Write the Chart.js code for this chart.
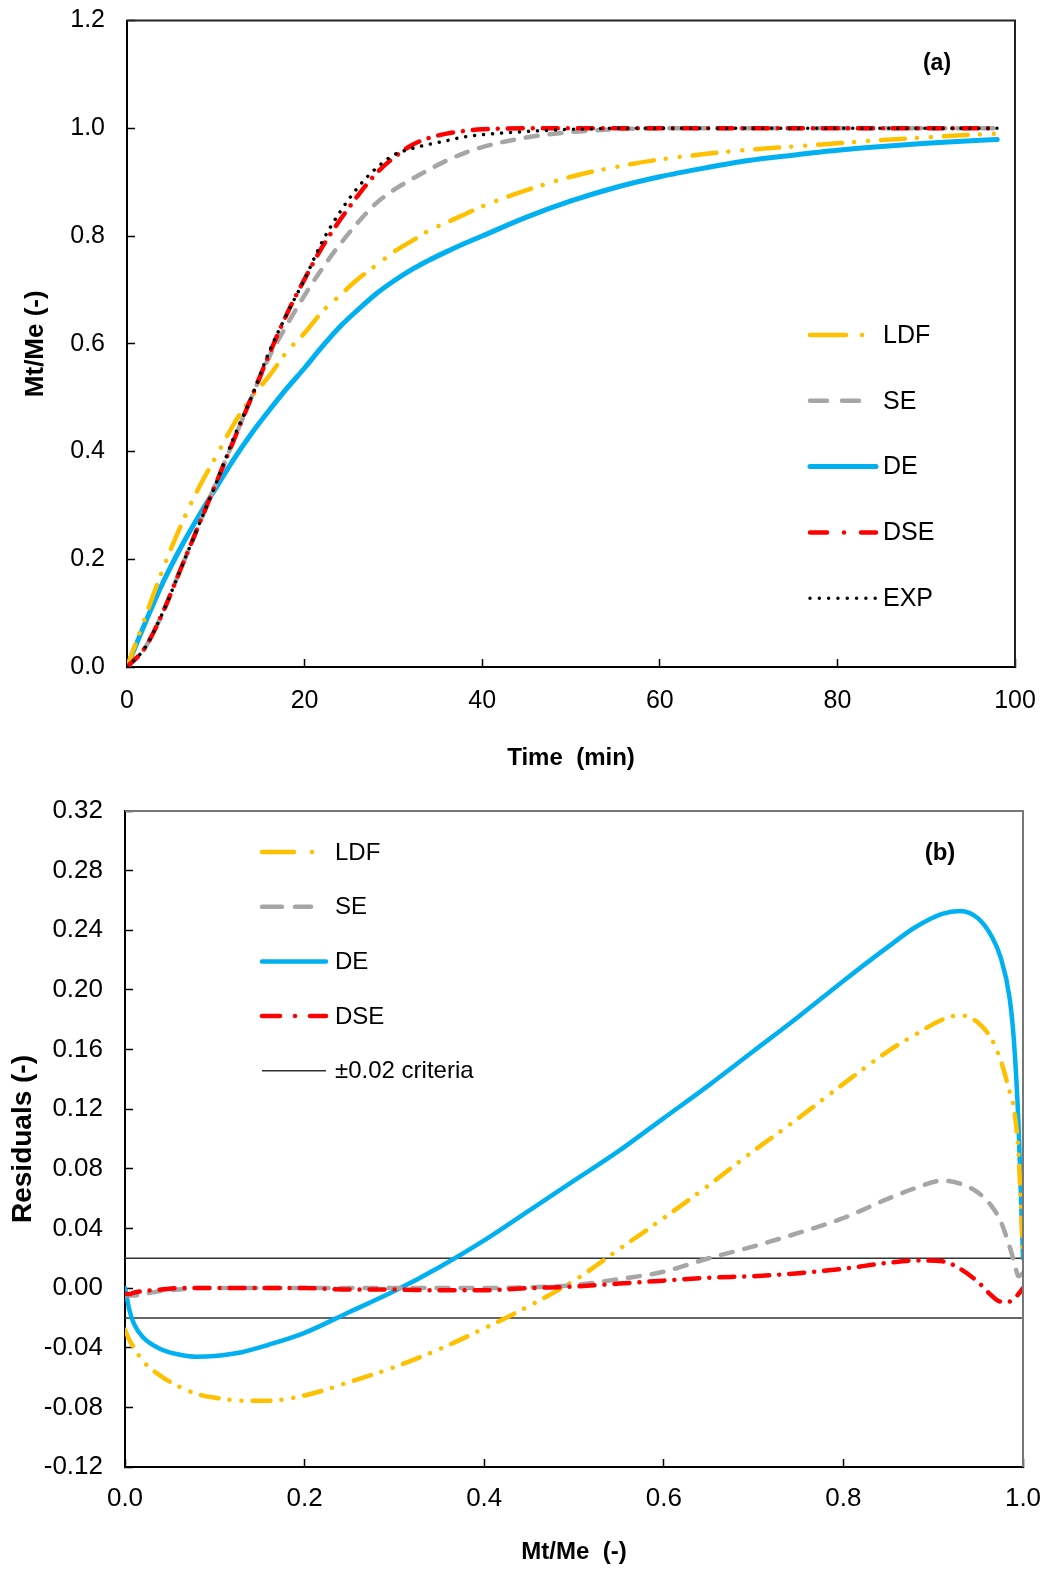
<!DOCTYPE html>
<html>
<head>
<meta charset="utf-8">
<script src="https://cdn.jsdelivr.net/npm/chart.js@4.4.1/dist/chart.umd.min.js"></script>
<style>
  body { margin: 0; background: #fff; }
  .panel { position: absolute; left: 0; width: 1049px; }
  #panelA { top: 0; height: 790px; }
  #panelB { top: 790px; height: 782px; }
</style>
</head>
<body>
<div class="panel" id="panelA"><canvas id="chartA" width="1049" height="790"></canvas></div>
<div class="panel" id="panelB"><canvas id="chartB" width="1049" height="782"></canvas></div>
<script>
// (a) uptake curves, time in min
const timeMin = [0, 2, 4, 6, 8, 10, 12, 14, 16, 18, 20, 22, 24, 26, 28, 30, 32, 34, 36, 38, 40, 45, 50, 55, 60, 65, 70, 75, 80, 85, 90, 94, 98];
const expA = [0, 0.035, 0.10, 0.18, 0.26, 0.34, 0.425, 0.50, 0.585, 0.655, 0.72, 0.79, 0.845, 0.89, 0.925, 0.95, 0.962, 0.97, 0.977, 0.984, 0.988, 0.994, 0.998, 1.0, 1.0, 1.0, 1.0, 1.0, 1.0, 1.0, 1.0, 1.0, 1.0];
const dseA = [0, 0.035, 0.10, 0.18, 0.26, 0.34, 0.42, 0.50, 0.58, 0.655, 0.72, 0.78, 0.83, 0.875, 0.915, 0.945, 0.968, 0.982, 0.99, 0.995, 0.998, 1.0, 1.0, 1.0, 1.0, 1.0, 1.0, 1.0, 1.0, 1.0, 1.0, 1.0, 1.0];
const seA = [0, 0.035, 0.10, 0.18, 0.26, 0.34, 0.42, 0.50, 0.575, 0.635, 0.69, 0.74, 0.785, 0.825, 0.86, 0.885, 0.905, 0.923, 0.94, 0.954, 0.965, 0.983, 0.993, 0.998, 1.0, 1.0, 1.0, 1.0, 1.0, 1.0, 1.0, 1.0, 1.0];
const ldfA = [0, 0.09, 0.18, 0.26, 0.33, 0.39, 0.45, 0.50, 0.54, 0.585, 0.62, 0.66, 0.69, 0.72, 0.745, 0.77, 0.79, 0.81, 0.825, 0.84, 0.855, 0.885, 0.91, 0.928, 0.942, 0.952, 0.96, 0.966, 0.972, 0.978, 0.983, 0.987, 0.99];
const deA = [0, 0.08, 0.155, 0.22, 0.278, 0.332, 0.385, 0.433, 0.476, 0.517, 0.555, 0.595, 0.632, 0.663, 0.692, 0.716, 0.737, 0.755, 0.771, 0.786, 0.80, 0.835, 0.865, 0.89, 0.91, 0.926, 0.94, 0.95, 0.959, 0.966, 0.972, 0.976, 0.979];

// (b) residuals against Mt/Me
const mtMe = [0, 0.005, 0.01, 0.02, 0.04, 0.06, 0.08, 0.1, 0.13, 0.16, 0.2, 0.25, 0.3, 0.35, 0.4, 0.45, 0.5, 0.55, 0.6, 0.65, 0.7, 0.75, 0.8, 0.85, 0.88, 0.91, 0.93, 0.95, 0.965, 0.975, 0.985, 0.99, 0.995, 1.0];
const ldfB = [-0.028, -0.035, -0.04, -0.049, -0.059, -0.066, -0.071, -0.0735, -0.0755, -0.0755, -0.072, -0.063, -0.053, -0.041, -0.027, -0.012, 0.005, 0.026, 0.047, 0.069, 0.092, 0.114, 0.137, 0.159, 0.170, 0.180, 0.183, 0.178, 0.167, 0.153, 0.132, 0.12, 0.09, 0.02];
const seB = [-0.005, -0.005, -0.005, -0.004, -0.002, -0.001, 0, 0, 0, 0, 0, 0, 0, 0, 0, 0.0005, 0.002, 0.006, 0.011, 0.020, 0.028, 0.037, 0.047, 0.060, 0.067, 0.072, 0.070, 0.064, 0.055, 0.045, 0.028, 0.018, 0.008, 0.01];
const deB = [0, -0.015, -0.024, -0.033, -0.041, -0.0445, -0.046, -0.0455, -0.043, -0.038, -0.030, -0.016, -0.002, 0.014, 0.032, 0.052, 0.072, 0.092, 0.114, 0.136, 0.159, 0.182, 0.206, 0.229, 0.242, 0.251, 0.253, 0.248, 0.236, 0.222, 0.195, 0.165, 0.11, 0.02];
const dseB = [-0.004, -0.004, -0.003, -0.002, -0.001, 0, 0, 0, 0, 0, 0, -0.001, -0.001, -0.0015, -0.0015, 0, 0.001, 0.003, 0.005, 0.007, 0.008, 0.010, 0.013, 0.017, 0.0185, 0.018, 0.013, 0.004, -0.005, -0.009, -0.009, -0.007, -0.004, 0.0];
const critX = [0, 1];
const critUp = [0.02, 0.02];
const critLow = [-0.02, -0.02];

const FONT = "'Liberation Sans', Arial, Helvetica, sans-serif";
const YELLOW = '#FFC000', GREY = '#A6A6A6', BLUE = '#00B0F0', RED = '#FF0000';

function pts(xs, ys) {
    return xs.map(function (x, i) { return { x: x, y: ys[i] }; });
}

function line(label, xs, ys, color, width, dash) {
    return {
        label: label,
        data: pts(xs, ys),
        borderColor: color,
        backgroundColor: color,
        borderWidth: width,
        borderDash: dash,
        borderCapStyle: 'round',
        pointRadius: 0,
        fill: false,
        cubicInterpolationMode: 'monotone'
    };
}

// box frame (top + right) and panel letter
const framePlugin = {
    id: 'frame',
    afterDraw(chart, args, opts) {
        const { ctx, chartArea: a } = chart;
        ctx.save();
        ctx.strokeStyle = opts.color;
        ctx.lineWidth = 2;
        ctx.beginPath();
        ctx.moveTo(a.left, a.top);
        ctx.lineTo(a.right, a.top);
        ctx.lineTo(a.right, a.bottom);
        ctx.stroke();
        ctx.fillStyle = '#000';
        ctx.font = 'bold ' + opts.letterSize + 'px ' + FONT;
        ctx.textAlign = 'center';
        ctx.textBaseline = 'middle';
        ctx.fillText(opts.letter, opts.letterX, opts.letterY);
        ctx.restore();
    }
};

// legend drawn inside the plot area
const keyPlugin = {
    id: 'key',
    afterDatasetsDraw(chart, args, opts) {
        const ctx = chart.ctx;
        ctx.save();
        opts.items.forEach(function (it, i) {
            const ds = chart.data.datasets[it.ds];
            const y = opts.y0 + i * opts.step;
            ctx.strokeStyle = ds.borderColor;
            ctx.lineWidth = it.width || ds.borderWidth;
            ctx.lineCap = it.cap || 'round';
            ctx.setLineDash(it.dash);
            ctx.beginPath();
            ctx.moveTo(opts.x0, y);
            ctx.lineTo(opts.x1, y);
            ctx.stroke();
            ctx.setLineDash([]);
            ctx.fillStyle = '#000';
            ctx.font = opts.size + 'px ' + FONT;
            ctx.textAlign = 'left';
            ctx.textBaseline = 'middle';
            ctx.fillText(ds.label, opts.textX, y + 1);
        });
        ctx.restore();
    }
};

function axis(min, max, step, fmt, title, titlePad, tickPad, size, tickSize) {
    return {
        type: 'linear',
        min: min,
        max: max,
        ticks: {
            stepSize: step,
            padding: tickPad,
            color: '#000',
            font: { family: FONT, size: tickSize },
            callback: fmt
        },
        grid: {
            drawOnChartArea: false,
            drawTicks: true,
            tickLength: -8,
            tickWidth: 1.5,
            tickColor: '#000'
        },
        border: { display: true, color: '#000', width: 2 },
        title: {
            display: true,
            text: title,
            color: '#000',
            font: { family: FONT, size: size, weight: 'bold' },
            padding: titlePad
        }
    };
}

function fixSize(prop, val) {
    return function (s) {
        s[prop] = val;
        s.paddingTop = 0; s.paddingBottom = 0; s.paddingLeft = 0; s.paddingRight = 0;
    };
}

// ---- chart (a)
const xA = axis(0, 100, 20, function (v) { return String(Math.round(v)); }, 'Time  (min)', { top: 0, bottom: 17 }, 27, 24, 25);
xA.afterFit = fixSize('height', 123);
const yA = axis(0, 1.2, 0.2, function (v) { return Math.abs(v) < 1e-9 ? '0.0' : v.toFixed(1); }, 'Mt/Me (-)', { top: 20, bottom: 0 }, 30, 26, 25);
yA.afterFit = fixSize('width', 127);

new Chart(document.getElementById('chartA'), {
    type: 'line',
    data: {
        datasets: [
            line('EXP', timeMin, expA, '#000', 3.5, [0.01, 9]),
            line('DSE', timeMin, dseA, RED, 4.5, [15, 10, 0.01, 10]),
            line('SE', timeMin, seA, GREY, 4.5, [12, 12]),
            line('LDF', timeMin, ldfA, YELLOW, 4.5, [24, 12, 0.01, 14, 0.01, 13]),
            line('DE', timeMin, deA, BLUE, 5, [])
        ]
    },
    options: {
        responsive: false,
        animation: false,
        layout: { padding: { top: 20.5, right: 34, left: 0, bottom: 0 } },
        scales: { x: xA, y: yA },
        plugins: {
            legend: { display: false },
            tooltip: { enabled: false },
            frame: { color: '#222', letter: '(a)', letterX: 937, letterY: 64, letterSize: 23 },
            key: {
                x0: 810, x1: 876, textX: 883, y0: 335, step: 65.8, size: 25,
                items: [
                    { ds: 3, dash: [36, 16, 0.01, 30] },
                    { ds: 2, dash: [17, 15, 17, 17, 0.01, 20] },
                    { ds: 4, dash: [] },
                    { ds: 1, dash: [17, 17, 0.01, 17, 17] },
                    { ds: 0, dash: [0.01, 9.3] }
                ]
            }
        }
    },
    plugins: [framePlugin, keyPlugin]
});

// ---- chart (b)
const xB = axis(0, 1, 0.2, function (v) { return v.toFixed(1); }, 'Mt/Me  (-)', { top: 0, bottom: 5 }, 24, 24, 26);
xB.afterFit = fixSize('height', 105);
const yB = axis(-0.12, 0.32, 0.04, function (v) { return Math.abs(v) < 1e-9 ? '0.00' : v.toFixed(2); }, 'Residuals (-)', { top: 6, bottom: 0 }, 30, 28, 26);
yB.afterFit = fixSize('width', 125);

const critUpper = line('\u00B10.02 criteria', critX, critUp, '#333', 1.5, []);
const critLower = line('\u00B10.02 criteria', critX, critLow, '#333', 1.5, []);

new Chart(document.getElementById('chartB'), {
    type: 'line',
    data: {
        datasets: [
            line('DSE', mtMe, dseB, RED, 4.5, [15, 10, 0.01, 10]),
            line('SE', mtMe, seB, GREY, 4.5, [12, 12]),
            line('LDF', mtMe, ldfB, YELLOW, 4.5, [18, 11, 0.01, 12, 0.01, 11]),
            line('DE', mtMe, deB, BLUE, 4.5, []),
            critUpper,
            critLower
        ]
    },
    options: {
        responsive: false,
        animation: false,
        layout: { padding: { top: 21, right: 26, left: 0, bottom: 0 } },
        scales: { x: xB, y: yB },
        plugins: {
            legend: { display: false },
            tooltip: { enabled: false },
            frame: { color: '#777', letter: '(b)', letterX: 940, letterY: 63, letterSize: 24 },
            key: {
                x0: 262, x1: 326, textX: 335, y0: 62, step: 54.7, size: 24,
                items: [
                    { ds: 2, dash: [32, 18, 0.01, 30] },
                    { ds: 1, dash: [20, 13, 16, 40] },
                    { ds: 3, dash: [] },
                    { ds: 0, dash: [18, 15, 0.01, 15, 18] },
                    { ds: 4, dash: [], cap: 'butt' }
                ]
            }
        }
    },
    plugins: [framePlugin, keyPlugin]
});
</script>
</body>
</html>
